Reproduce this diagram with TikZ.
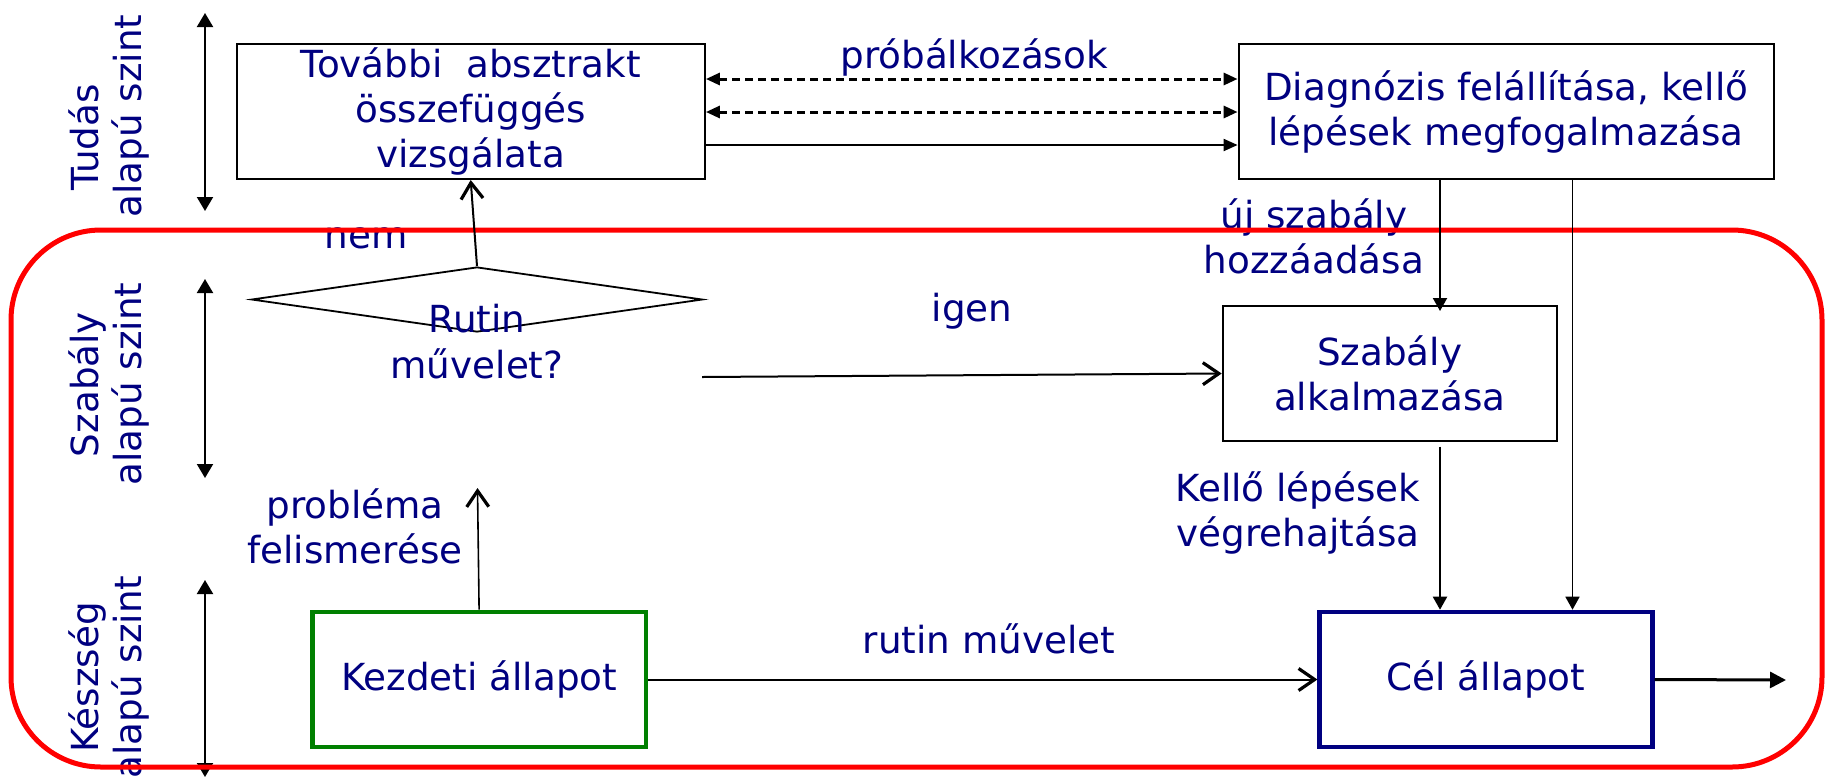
\documentclass[tikz,border=0pt]{standalone}
\usepackage{fontspec}
\setmainfont{DejaVu Sans}
\usetikzlibrary{arrows.meta,shapes.geometric,calc}
\definecolor{navy}{RGB}{0,0,128}
\definecolor{dgreen}{RGB}{0,128,0}
\begin{document}
\begin{tikzpicture}[x=0.5pt,y=-0.5pt,
  txt/.style={text=navy,font=\fontsize{18.65}{22.6}\selectfont,align=center,inner sep=0pt},
  box/.style={txt,draw=black,line width=1pt,fill=white},
  levelarrow/.style={line width=1pt,{Triangle[length=7pt,width=8pt]}-{Triangle[length=7pt,width=8pt]}},
  dasharrow/.style={line width=1.5pt,dash pattern=on 4pt off 2.5pt,{Triangle[length=7pt,width=6pt]}-{Triangle[length=7pt,width=6pt]}},
  solidarrow/.style={line width=1pt,-{Triangle[length=7pt,width=6pt]}},
  downarrow/.style={line width=1pt,-{Triangle[length=6.5pt,width=7pt]}},
  openarrow/.style={line width=1pt,-{Straight Barb[length=8pt,width=11pt,line width=1.6pt]}},
  exitarrow/.style={line width=1.5pt,-{Triangle[length=8pt,width=8pt]}}
]
\useasboundingbox (0,0) rectangle (1826,778);

% level labels (rotated)
\node[txt,rotate=90,anchor=base] (t1a) at (98,137.5) {Tudás};
\node[txt,rotate=90,anchor=base] (t1b) at (141,116) {alapú szint};
\node[txt,rotate=90,anchor=base] (t2a) at (98,384.5) {Szabály};
\node[txt,rotate=90,anchor=base] (t2b) at (141,384) {alapú szint};
\node[txt,rotate=90,anchor=base] (t3a) at (98,677.5) {Készség};
\node[txt,rotate=90,anchor=base] (t3b) at (141,677) {alapú szint};

% level arrows
\draw[levelarrow] (205,13) -- (205,211);
\draw[levelarrow] (205,279) -- (205,478);
\draw[levelarrow] (205,580) -- (205,777);

% free labels
\node[txt,anchor=base] (lprob) at (974,68) {próbálkozások};
\node[txt,anchor=base] (lnem) at (366,248) {nem};
\node[txt] (luj) at (1314,236) {új szabály\\hozzáadása};
\node[txt,anchor=base] (ligen) at (972,321) {igen};
\node[txt] (lkell) at (1298,513) {Kellő lépések\\végrehajtása};
\node[txt,anchor=base] (lrutin) at (989,653) {rutin művelet};
\node[txt] (lfel) at (355,526) {probléma\\felismerése};

% red frame
\draw[red,line width=2.5pt,rounded corners=45pt] (11,230) rectangle (1822,767);

% boxes
\node[box,minimum width=234.2pt,minimum height=67.3pt] (b1) at (470.7,111.7) {További\ \ absztrakt\\összefüggés\\vizsgálata};
\node[box,minimum width=267.5pt,minimum height=67.3pt] (diag) at (1506.1,111.7) {Diagnózis felállítása, kellő\\lépések megfogalmazása};
\node[box,minimum width=167pt,minimum height=67.5pt] (szab) at (1389.7,373.5) {Szabály\\alkalmazása};
\node[box,draw=navy,line width=2.3pt,minimum width=166.3pt,minimum height=67.5pt] (cel) at (1486,679.5) {Cél állapot};
\node[box,draw=dgreen,line width=2.3pt,minimum width=166.9pt,minimum height=67.5pt] (kezd) at (479.1,679.5) {Kezdeti állapot};
\node[draw,diamond,line width=0.9pt,minimum width=225.5pt,minimum height=32.5pt,inner sep=0pt] (dia) at (477,299.5) {};
\node[txt] (rutin) at (477,341.5) {Rutin\\művelet?};

% helper coordinates
\coordinate (ya) at (0,79);
\coordinate (yb) at (0,112);
\coordinate (yc) at (0,145);
\coordinate (xa) at (1440,0);
\coordinate (xb) at (1572.5,0);
\coordinate (igs) at (702,377);
\coordinate (pf) at (477.5,488);
\coordinate (szs) at (1440,446.7);
\coordinate (exit) at (1786,680);

% connectors
\draw[dasharrow] (b1.east |- ya) -- (diag.west |- ya);
\draw[dasharrow] (b1.east |- yb) -- (diag.west |- yb);
\draw[solidarrow] (b1.east |- yc) -- (diag.west |- yc);
\draw[downarrow] (xa |- diag.south) -- ([yshift=-3pt]xa |- szab.north);
\draw[downarrow,line width=0.8pt] (xb |- diag.south) -- (xb |- cel.north);
\draw[downarrow] (szs) -- (szs |- cel.north);
\draw[openarrow] (dia.north) -- (b1.south);
\draw[openarrow] (igs) -- (szab.west);
\draw[openarrow,line width=0.8pt] (kezd.north) -- (pf);
\draw[openarrow] (kezd.east) -- (cel.west);
\draw[exitarrow] (cel.east) -- (exit);
\end{tikzpicture}
\end{document}
